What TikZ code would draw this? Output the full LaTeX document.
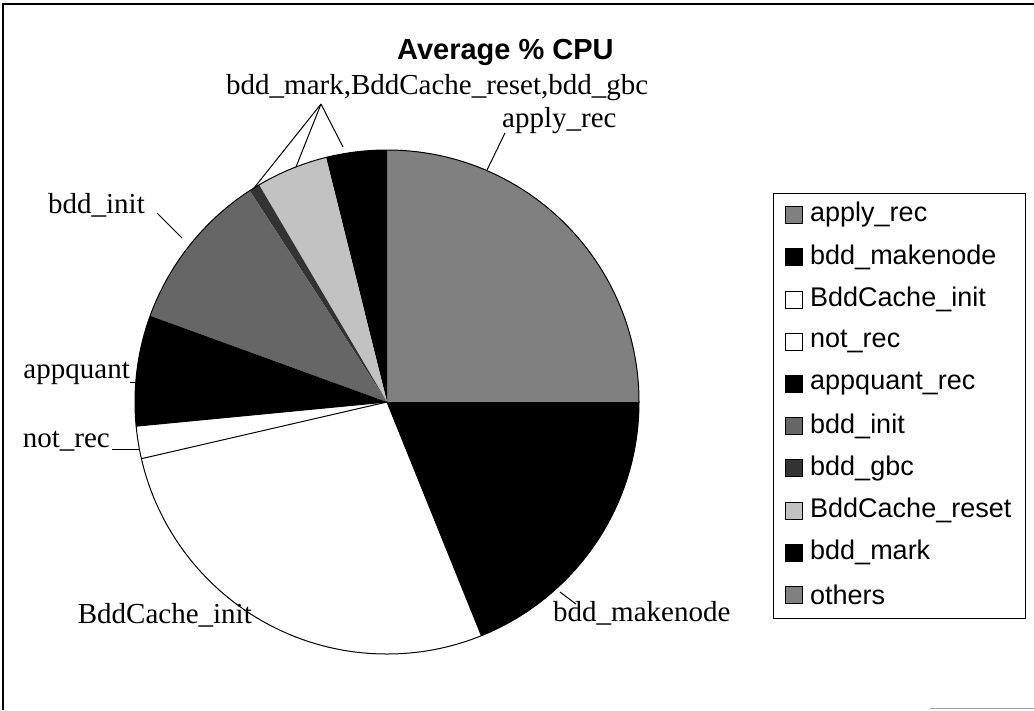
\documentclass[tikz,border=0pt]{standalone}
\usepackage{fontspec}
\setmainfont{Liberation Serif}
\newfontfamily\arialfont{Liberation Sans}
\begin{document}
\begin{tikzpicture}[x=1pt,y=-1pt,
  lbl/.style={font=\fontsize{29}{31}\selectfont, inner sep=0pt},
  leg/.style={font=\arialfont\fontsize{27}{29}\selectfont, inner sep=0pt, anchor=west},
  sq/.style={draw=black, line width=0.8pt, minimum size=17pt, inner sep=0pt},
  lead/.style={draw=black, line width=1pt},
  slice/.style={draw=black, line width=1pt}]
\useasboundingbox (0,0) rectangle (1034,710);
\fill[white] (0,0) rectangle (1034,710);
% frame (top and left edges, faint bottom fragment)
\draw[line width=1.2pt] (3,710) -- (3,4) -- (1034,4);
\draw[black!35, line width=0.8pt] (930,708) -- (1034,708);
% pie: screen angles counter-clockwise, negated because y points down
\coordinate (c) at (387,402);
\def\R{252}
\newcommand{\pieslice}[3]{\fill[#3] (c) -- ++(-#1:\R) arc[start angle=-#1,end angle=-#2,radius=\R] -- cycle;}
\pieslice{0}{90}{black!50}
\pieslice{90}{104}{black}
\pieslice{104}{120.5}{black!24}
\pieslice{120.5}{123}{black!80}
\pieslice{123}{160}{black!60}
\pieslice{160}{185.5}{black}
\pieslice{292}{360}{black}
\draw[slice] (c) -- ++(-185.5:\R);
\draw[slice] (c) -- ++(-193:\R);
\draw[slice] (c) -- ++(-292:\R);
\draw[slice] (c) circle[radius=\R];
% title
\node[font=\arialfont\bfseries\fontsize{29}{31}\selectfont, inner sep=0pt, anchor=west] (title) at (397,52) {Average \% CPU};
% labels
\node[lbl, anchor=west] (top) at (226,88) {bdd\_mark,BddCache\_reset,bdd\_gbc};
\coordinate (fan) at (321,104);
\coordinate (pgbc) at (254,188);
\coordinate (preset) at (296,167);
\coordinate (pmark) at (343,147);
\draw[lead] (fan) -- (pgbc);
\draw[lead] (fan) -- (preset);
\draw[lead] (fan) -- (pmark);
\node[lbl, anchor=west] (apply) at (502,121) {apply\_rec};
\coordinate (papply) at (487,170);
\draw[lead] (505,133) -- (papply);
\node[lbl, anchor=east] (init) at (145,205) {bdd\_init};
\coordinate (pinit) at (182,238);
\draw[lead] (157,213) -- (pinit);
\node[lbl, anchor=east] (appq) at (130,373) {appquant};
\coordinate (pappq) at (136,382);
\draw[lead] (130,382) -- (pappq);
\node[lbl, anchor=east] (notrec) at (110,441) {not\_rec};
\coordinate (pnot) at (139,449);
\draw[lead] (112,449) -- (pnot);
\node[lbl, anchor=east] (cinit) at (252,615) {BddCache\_init};
\node[lbl, anchor=west] (mk) at (553,613) {bdd\_makenode};
\coordinate (pmk) at (560,592);
\draw[lead] (pmk) -- (576,604);
% legend
\draw[line width=1pt] (773,193) rectangle (1025,618);
\foreach \i/\t/\f in {0/apply\_rec/black!50, 1/bdd\_makenode/black, 2/BddCache\_init/white, 3/not\_rec/white, 4/appquant\_rec/black, 5/bdd\_init/black!60, 6/bdd\_gbc/black!80, 7/BddCache\_reset/black!24, 8/bdd\_mark/black, 9/others/black!50} {
  \node[sq, fill=\f] (s\i) at (794,{215+42.2*\i}) {};
  \node[leg] (t\i) at (810,{215+42.2*\i}) {\t};
}
\end{tikzpicture}
\end{document}
